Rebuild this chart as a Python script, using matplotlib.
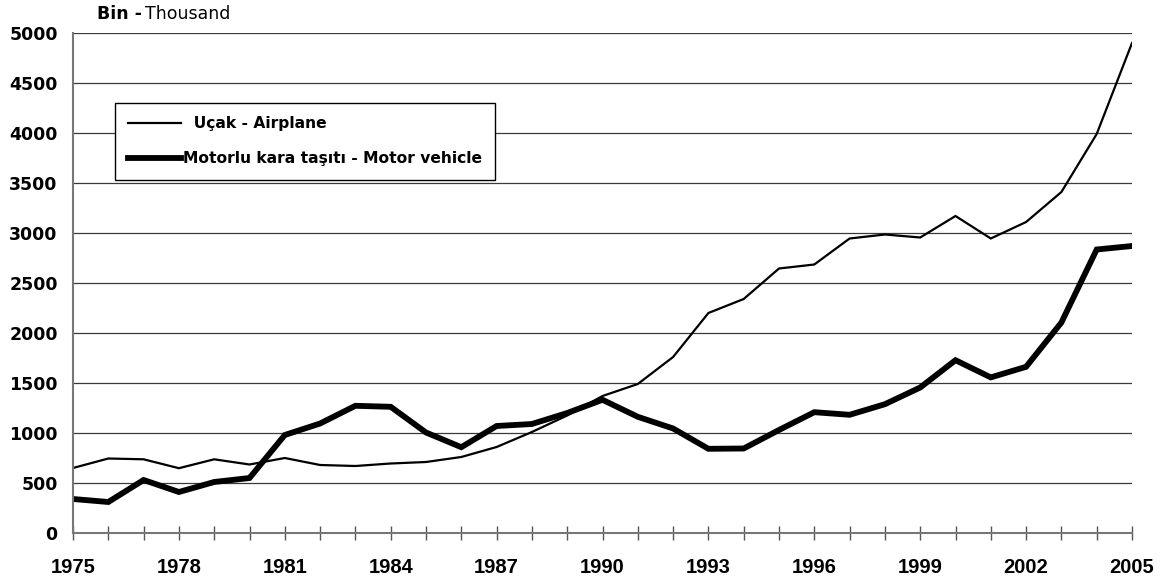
import matplotlib.pyplot as plt
import numpy as np

# yıllar
years = list(range(1975, 2006))

# Uçak - Airplane (bin)
airplane = [650, 745, 737, 648, 737, 685, 750, 680, 670, 695,
            710, 760, 860, 1010, 1175, 1370, 1490, 1760, 2200, 2340,
            2645, 2685, 2945, 2985, 2955, 3170, 2945, 3110, 3410, 3990,
            4900]

# Motorlu kara taşıtı - Motor vehicle (bin)
motor = [340, 310, 530, 410, 510, 550, 980, 1095, 1272, 1262,
         1005, 858, 1070, 1090, 1200, 1332, 1162, 1045, 842, 845,
         1030, 1208, 1182, 1288, 1455, 1728, 1556, 1662, 2105, 2835,
         2870]

xtick_years = list(range(1975, 2006, 3))
ytick_vals = list(range(0, 5001, 500))

plt.rcParams['font.family'] = ['DejaVu Sans']

fig = plt.figure(figsize=(11.68, 5.85), dpi=100)
ax = fig.add_axes([73 / 1168, 1 - 533 / 585, (1132 - 73) / 1168, 500 / 585])

ax.plot(years, airplane, color='black', linewidth=1.6, label='  Uçak - Airplane',
        solid_joinstyle='miter')
ax.plot(years, motor, color='black', linewidth=4.2, label='Motorlu kara taşıtı - Motor vehicle',
        solid_joinstyle='miter')

ax.set_xlim(1975, 2005)
ax.set_ylim(0, 5000)

# yatay ızgara
for v in ytick_vals[1:]:
    ax.axhline(v, color='#3a3a3a', linewidth=0.9, zorder=0)

ax.set_yticks(ytick_vals)
ax.set_yticklabels([str(v) for v in ytick_vals], fontsize=12.5, fontweight='bold')
ax.tick_params(axis='y', length=0, pad=11)

ax.set_xticks(years, minor=True)
ax.set_xticks(xtick_years)
ax.set_xticklabels([str(y) for y in xtick_years], fontsize=14.5, fontweight='bold',
                   family='Liberation Sans')
ax.tick_params(axis='x', which='both', direction='inout', length=10, width=1,
               color='#555555', pad=13)

for s in ['top', 'right']:
    ax.spines[s].set_visible(False)
for s in ['left', 'bottom']:
    ax.spines[s].set_color('#777777')
    ax.spines[s].set_linewidth(1.5)

leg = ax.legend(loc='upper left', bbox_to_anchor=((115 - 73) / 1059, (533 - 103) / 500),
                borderaxespad=0, fancybox=False, frameon=True, edgecolor='black',
                framealpha=1, handlelength=3.4, handletextpad=0.1, labelspacing=1.3,
                borderpad=0.85, prop={'size': 11.2, 'weight': 'bold'})
leg.get_frame().set_linewidth(1.0)

# başlık
fig.text(97 / 1168, 1 - 14 / 585, 'Bin -', fontsize=12.5, fontweight='bold', va='center')
fig.text(145 / 1168, 1 - 14 / 585, 'Thousand', fontsize=12.5, va='center')

plt.savefig('out.png', dpi=100)
